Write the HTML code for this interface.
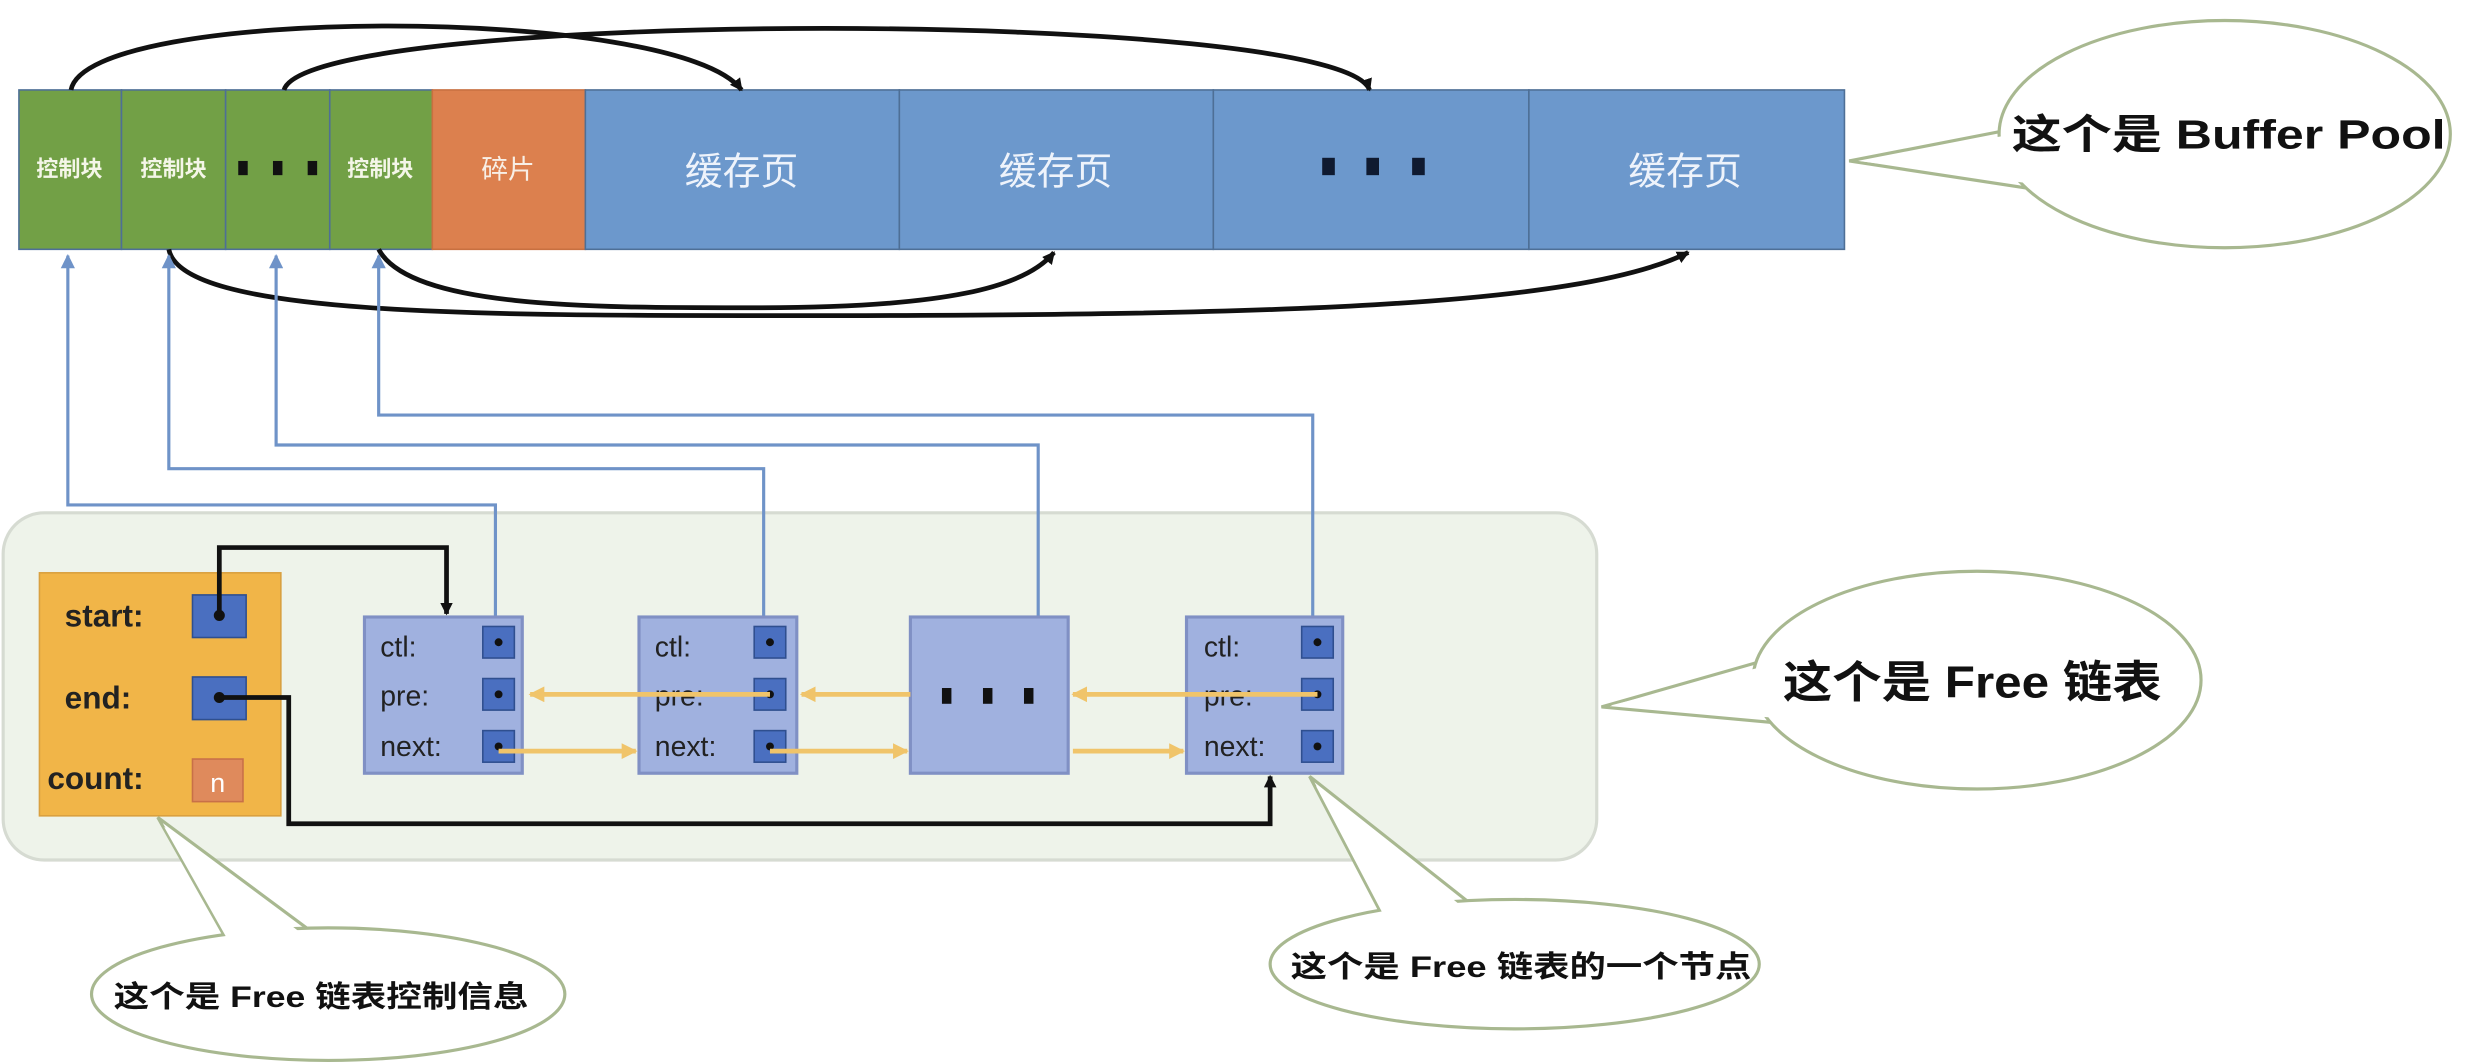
<!DOCTYPE html>
<html><head><meta charset="utf-8"><style>
html,body{margin:0;padding:0;background:#fff;}
svg{display:block;}
text{font-family:"Liberation Sans","Noto Sans CJK SC",sans-serif;}
</style></head><body>
<svg width="2474" height="1062" viewBox="0 0 1568 673" preserveAspectRatio="none" xmlns="http://www.w3.org/2000/svg">
<defs>
<marker id="ab" markerWidth="8" markerHeight="8" refX="7" refY="4" orient="auto" markerUnits="userSpaceOnUse"><path d="M0,0 L8,4 L0,8 z" fill="#111"/></marker>
<marker id="abl" markerWidth="9" markerHeight="9" refX="8" refY="4.5" orient="auto" markerUnits="userSpaceOnUse"><path d="M0,0 L9,4.5 L0,9 z" fill="#6f93c8"/></marker>
<marker id="ay" markerWidth="10" markerHeight="10" refX="9" refY="5" orient="auto" markerUnits="userSpaceOnUse"><path d="M0,0 L10,5 L0,10 z" fill="#f0c46a"/></marker>
</defs>
<rect width="1568" height="673" fill="#fff"/>

<g stroke="#4e6f96" stroke-width="1">
<rect x="12" y="57" width="65" height="101" fill="#72a046"/>
<rect x="77" y="57" width="66" height="101" fill="#72a046"/>
<rect x="143" y="57" width="66" height="101" fill="#72a046"/>
<rect x="209" y="57" width="65" height="101" fill="#72a046"/>
<rect x="274" y="57" width="97" height="101" fill="#dc804e" stroke="#c87040"/>
<rect x="371" y="57" width="199" height="101" fill="#6c98cc"/>
<rect x="570" y="57" width="199" height="101" fill="#6c98cc"/>
<rect x="769" y="57" width="200" height="101" fill="#6c98cc"/>
<rect x="969" y="57" width="200" height="101" fill="#6c98cc"/>
</g>
<g fill="#f4f6e8" font-size="14" font-weight="bold" text-anchor="middle">
<text x="44" y="112">控制块</text><text x="110" y="112">控制块</text><text x="241" y="112">控制块</text>
</g>
<g fill="#111"><rect x="151" y="102" width="6" height="9"/><rect x="173" y="102" width="6" height="9"/><rect x="195" y="102" width="6" height="9"/></g>
<text x="322" y="113" fill="#f8efe6" font-size="17" text-anchor="middle">碎片</text>
<g fill="#eef3fb" font-size="24" text-anchor="middle">
<text x="470" y="117">缓存页</text><text x="669" y="117">缓存页</text><text x="1068" y="117">缓存页</text>
</g>
<g fill="#0f1a30"><rect x="838" y="100" width="8" height="11"/><rect x="866" y="100" width="8" height="11"/><rect x="895" y="100" width="8" height="11"/></g>

<g fill="none" stroke="#111" stroke-width="3" marker-end="url(#ab)">
<path d="M45,57 C55,3 430,3 470,57"/>
<path d="M180,57 C195,5 850,5 868,57"/>
<path d="M107,158 C115,200 300,200 500,200 C800,200 1000,195 1070,160"/>
<path d="M240,158 C260,196 380,195 480,195 C600,195 650,182 668,160"/>
</g>

<rect x="2" y="325" width="1010" height="220" rx="26" fill="#eef3ea" stroke="#d6dbd2" stroke-width="2"/>

<g fill="none" stroke="#6f93c8" stroke-width="2">
<path d="M314,392 V320 H43 V162" marker-end="url(#abl)"/>
<path d="M484,392 V297 H107 V162" marker-end="url(#abl)"/>
<path d="M658,405 V282 H175 V162" marker-end="url(#abl)"/>
<path d="M832,400 V263 H240 V162" marker-end="url(#abl)"/>
</g>

<rect x="25" y="363" width="153" height="154" fill="#f1b548" stroke="#d9a040"/>
<g font-size="20" fill="#222" font-weight="bold">
<text x="41" y="397">start:</text><text x="41" y="449">end:</text><text x="30" y="500">count:</text>
</g>
<rect x="122" y="377" width="34" height="27" fill="#4a6fc0" stroke="#2f4f8f"/>
<rect x="122" y="429" width="34" height="27" fill="#4a6fc0" stroke="#2f4f8f"/>
<rect x="122" y="481" width="32" height="27" fill="#df8a5c" stroke="#c87048"/>
<text x="138" y="502" font-size="17" fill="#fff" text-anchor="middle">n</text>
<circle cx="139" cy="390" r="3.5" fill="#111"/><circle cx="139" cy="442" r="3.5" fill="#111"/>

<g fill="#a0b1df" stroke="#8090c4" stroke-width="2">
<rect x="231" y="391" width="100" height="99"/>
<rect x="405" y="391" width="100" height="99"/>
<rect x="577" y="391" width="100" height="99"/>
<rect x="752" y="391" width="99" height="99"/>
</g>
<g font-size="18" fill="#222">
<text x="241" y="416">ctl:</text><text x="241" y="447">pre:</text><text x="241" y="479">next:</text>
<text x="415" y="416">ctl:</text><text x="415" y="447">pre:</text><text x="415" y="479">next:</text>
<text x="763" y="416">ctl:</text><text x="763" y="447">pre:</text><text x="763" y="479">next:</text>
</g>
<g fill="#4a6fc0" stroke="#2f4f8f">
<rect x="306" y="397" width="20" height="20"/><rect x="306" y="430" width="20" height="20"/><rect x="306" y="463" width="20" height="20"/>
<rect x="478" y="397" width="20" height="20"/><rect x="478" y="430" width="20" height="20"/><rect x="478" y="463" width="20" height="20"/>
<rect x="825" y="397" width="20" height="20"/><rect x="825" y="430" width="20" height="20"/><rect x="825" y="463" width="20" height="20"/>
</g>
<g fill="#111">
<circle cx="316" cy="407" r="2.5"/><circle cx="316" cy="440" r="2.5"/><circle cx="316" cy="473" r="2.5"/>
<circle cx="488" cy="407" r="2.5"/><circle cx="488" cy="440" r="2.5"/><circle cx="488" cy="473" r="2.5"/>
<circle cx="835" cy="407" r="2.5"/><circle cx="835" cy="440" r="2.5"/><circle cx="835" cy="473" r="2.5"/>
<rect x="597" y="436" width="6" height="10"/><rect x="623" y="436" width="6" height="10"/><rect x="649" y="436" width="6" height="10"/>
</g>

<g stroke="#f0c46a" stroke-width="3" fill="none" marker-end="url(#ay)">
<path d="M488,440 H336"/><path d="M577,440 H508"/><path d="M835,440 H680"/>
<path d="M316,476 H403"/><path d="M488,476 H575"/><path d="M680,476 H750"/>
</g>

<g fill="none" stroke="#111" stroke-width="3" marker-end="url(#ab)">
<path d="M139,390 V347 H283 V389"/>
<path d="M139,442 H183 V522 H805 V492"/>
</g>

<!-- callouts: pointer, ellipse, seam cover -->
<g fill="#fff" stroke="#a8b890" stroke-width="2">
<polygon points="1172,102 1285,80 1290,120"/>
<ellipse cx="1410" cy="85" rx="143" ry="72"/>
<polygon points="1015,448 1120,418 1125,458"/>
<ellipse cx="1253" cy="431" rx="142" ry="69"/>
<polygon points="100,518 145,598 205,596"/>
<ellipse cx="208" cy="630" rx="150" ry="42"/>
<polygon points="830,492 875,578 935,575"/>
<ellipse cx="960" cy="611" rx="155" ry="41"/>
</g>
<g fill="#fff">
<polygon points="1178,102 1288,83 1292,117"/>
<polygon points="1021,447 1123,421 1127,455"/>
<polygon points="104,524 148,602 202,600"/>
<polygon points="834,498 878,582 932,579"/>
</g>
<g font-weight="bold" fill="#111">
<text x="1275" y="94" font-size="26" textLength="275" lengthAdjust="spacingAndGlyphs">这个是 Buffer Pool</text>
<text x="1130" y="442" font-size="28" textLength="240" lengthAdjust="spacingAndGlyphs">这个是 Free 链表</text>
<text x="72" y="638" font-size="19" textLength="263" lengthAdjust="spacingAndGlyphs">这个是 Free 链表控制信息</text>
<text x="818" y="619" font-size="19" textLength="292" lengthAdjust="spacingAndGlyphs">这个是 Free 链表的一个节点</text>
</g>
</svg>
</body></html>
